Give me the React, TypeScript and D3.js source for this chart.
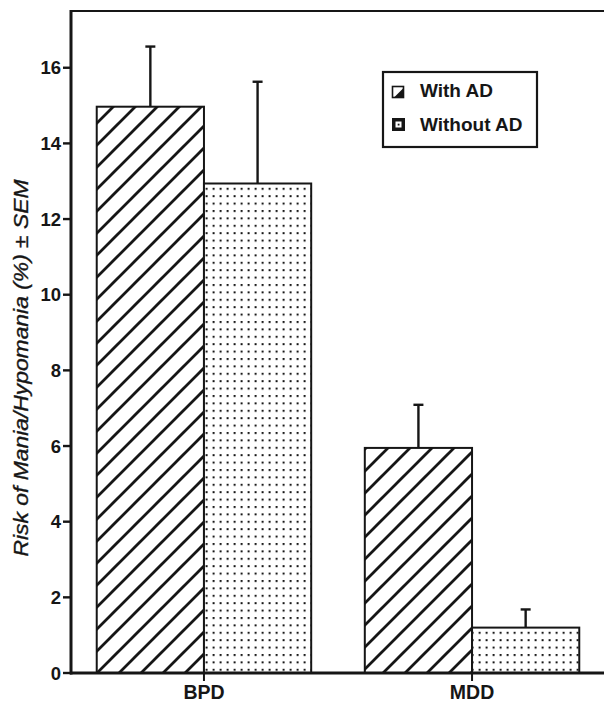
import React from "react";
import * as d3 from "d3";

const categories = ["BPD", "MDD"];
const seriesNames = ["With AD", "Without AD"];
const withAD = [14.97, 5.95];
const withADErr = [1.59, 1.14];
const withoutAD = [12.94, 1.2];
const withoutADErr = [2.69, 0.48];
const yTicks = [0, 2, 4, 6, 8, 10, 12, 14, 16];

const W = 604;
const H = 704;
const left = 71;
const right = 605;
const top = 11;
const bottom = 673;

export default function App() {
  const x = d3.scaleBand().domain(categories).range([left, right]).paddingInner(0.2).paddingOuter(0.096);
  const sub = d3.scaleBand().domain(seriesNames).range([0, x.bandwidth()]);
  const y = d3.scaleLinear().domain([0, 17.5]).range([bottom, top]);

  const bars = categories.flatMap((c, i) => [
    { cat: c, s: seriesNames[0], v: withAD[i], e: withADErr[i], fill: "url(#hatch)" },
    { cat: c, s: seriesNames[1], v: withoutAD[i], e: withoutADErr[i], fill: "url(#dots)" },
  ]);

  const font = "'Liberation Sans', Arial, Helvetica, sans-serif";
  const ink = "#161616";

  return (
    <svg width={W} height={H} style={{ position: "absolute", left: 0, top: 0, background: "#fff" }}>
      <defs>
        <pattern id="hatch" patternUnits="userSpaceOnUse" width={22} height={22}>
          <path d="M-5,5 L5,-5 M0,22 L22,0 M17,27 L27,17" stroke={ink} strokeWidth={2.8} />
        </pattern>
        <pattern id="dots" patternUnits="userSpaceOnUse" width={7} height={7.4}>
          <rect x={2.6} y={2.8} width={2} height={2} fill={ink} />
        </pattern>
      </defs>

      {bars.map((b, i) => {
        const bx = (x(b.cat) as number) + (sub(b.s) as number);
        const cx = bx + sub.bandwidth() / 2;
        return (
          <g key={"bar" + i}>
            <line x1={cx} x2={cx} y1={y(b.v)} y2={y(b.v + b.e)} stroke={ink} strokeWidth={2.4} />
            <line x1={cx - 5} x2={cx + 5} y1={y(b.v + b.e)} y2={y(b.v + b.e)} stroke={ink} strokeWidth={2.4} />
            <rect x={bx} y={y(b.v)} width={sub.bandwidth()} height={bottom - y(b.v)} fill="#fff" />
            <rect x={bx} y={y(b.v)} width={sub.bandwidth()} height={bottom - y(b.v)} fill={b.fill} stroke={ink} strokeWidth={2} />
          </g>
        );
      })}

      {/* frame / axes */}
      <line x1={left} x2={W + 2} y1={top} y2={top} stroke={ink} strokeWidth={2.2} />
      <line x1={left} x2={left} y1={top - 1} y2={bottom + 1.5} stroke={ink} strokeWidth={3} />
      <line x1={left - 1} x2={W + 2} y1={bottom} y2={bottom} stroke={ink} strokeWidth={3} />

      {yTicks.map((t) => (
        <g key={"yt" + t}>
          <line x1={left - 8} x2={left} y1={y(t)} y2={y(t)} stroke={ink} strokeWidth={2.4} />
          <text x={left - 10} y={y(t)} dy="0.36em" textAnchor="end" fontFamily={font} fontWeight="bold" fontSize={18.5} fill={ink}>
            {t}
          </text>
        </g>
      ))}

      {categories.map((c) => {
        const cx = (x(c) as number) + x.bandwidth() / 2;
        return (
          <g key={"xt" + c}>
            <line x1={cx} x2={cx} y1={bottom} y2={bottom + 8} stroke={ink} strokeWidth={2} />
            <text x={cx} y={699} textAnchor="middle" fontFamily={font} fontWeight="bold" fontSize={19.5} fill={ink}>
              {c}
            </text>
          </g>
        );
      })}

      <text
        transform="translate(28,368) rotate(-90)"
        textAnchor="middle"
        fontFamily={font}
        fontStyle="italic"
        fontSize={20}
        textLength={377}
        lengthAdjust="spacingAndGlyphs"
        fill={ink}
        stroke={ink}
        strokeWidth={0.35}
      >
        Risk of Mania/Hypomania (%) ± SEM
      </text>

      {/* legend */}
      <rect x={383} y={72} width={154} height={75} fill="#fff" stroke={ink} strokeWidth={2.2} />
      <g>
        <rect x={392.5} y={86.5} width={11} height={11} fill="#fff" stroke={ink} strokeWidth={1.6} />
        <path d="M403.5,88 L403.5,97.5 L394,97.5 Z" fill={ink} />
        <text x={420} y={97} fontFamily={font} fontWeight="bold" fontSize={19} fill={ink}>
          {seriesNames[0]}
        </text>
      </g>
      <g>
        <rect x={392} y={118} width={13} height={13} fill={ink} />
        <rect x={395.5} y={121.5} width={6} height={6} fill="#fff" />
        <rect x={397.7} y={123.7} width={1.8} height={1.8} fill={ink} />
        <text x={420} y={131} fontFamily={font} fontWeight="bold" fontSize={19} fill={ink}>
          {seriesNames[1]}
        </text>
      </g>
    </svg>
  );
}
